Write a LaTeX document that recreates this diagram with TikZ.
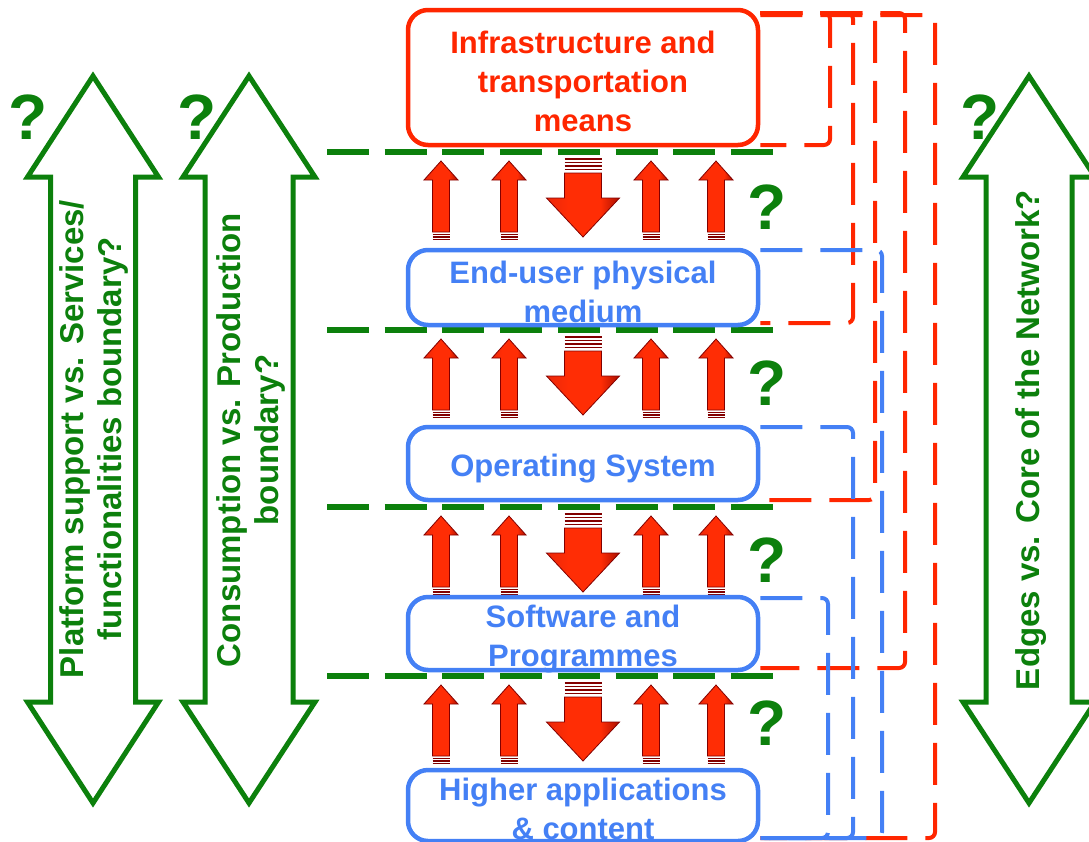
\documentclass[tikz,border=0pt]{standalone}
\usepackage{fontspec}
\setmainfont{Liberation Sans}
\definecolor{gr}{RGB}{12,128,12}
\definecolor{rd}{RGB}{255,38,0}
\definecolor{bl}{RGB}{68,128,245}
\definecolor{arrL}{RGB}{235,40,10}
\definecolor{arrM}{RGB}{255,45,5}
\definecolor{arrR}{RGB}{170,15,0}
\definecolor{arrD}{RGB}{130,0,0}
\pgfdeclarehorizontalshading{redarr}{100bp}{color(0bp)=(arrL); color(25bp)=(arrL); color(40bp)=(arrM); color(62bp)=(arrM); color(75bp)=(arrR); color(100bp)=(arrR)}
\tikzset{
  garrow/.style={draw=gr, line width=5, line join=miter, fill=white},
  gtext/.style={text=gr, font=\fontsize{33}{38}\selectfont\bfseries, align=center, inner sep=0},
  qmark/.style={text=gr, font=\fontsize{64}{64}\selectfont\bfseries, inner sep=0},
  gdash/.style={draw=gr, line width=5.5, dash pattern=on 42 off 15.7},
  boxstyle/.style={rounded corners=20, line width=4.5, minimum width=350, inner sep=0},
  redbox/.style={boxstyle, draw=rd},
  bluebox/.style={boxstyle, draw=bl},
  boxtext/.style={inner sep=0, align=center, font=\fontsize{31}{39}\selectfont\bfseries},
  rbr/.style={draw=rd, line width=4, dash pattern=on 42 off 18, rounded corners=6},
  bbr/.style={draw=bl, line width=4, dash pattern=on 42 off 18, rounded corners=6},
  uparr/.style={draw=arrD, line width=0.8, shading=redarr},
  stripe/.style={draw=arrD, line width=1.1},
}
\begin{document}
\begin{tikzpicture}[x=1pt, y=-1pt]
\useasboundingbox (0,0) rectangle (1089,841);

% big green double arrows
\draw[garrow] (93,76) -- (158.5,177) -- (135.5,177) -- (135.5,702) -- (158.5,702) -- (93,803) -- (27.5,702) -- (50.5,702) -- (50.5,177) -- (27.5,177) -- cycle;
\draw[garrow] (249,76) -- (315,177) -- (293,177) -- (293,702) -- (315,702) -- (249,803) -- (183,702) -- (205,702) -- (205,177) -- (183,177) -- cycle;
\draw[garrow] (1029,76) -- (1095,177) -- (1072,177) -- (1072,702) -- (1095,702) -- (1029,803) -- (963,702) -- (986,702) -- (986,177) -- (963,177) -- cycle;

\node[gtext, rotate=90] (pt) at (94,439) {Platform support vs. Services/\\functionalities boundary?};
\node[gtext, rotate=90] (cp) at (251,440) {Consumption vs. Production\\boundary?};
\node[gtext, rotate=90] (ec) at (1031,440) {Edges vs. Core of the Network?};

\node[qmark] (q1) at (28,117) {?};
\node[qmark] (q2) at (197,117) {?};
\node[qmark] (q3) at (980,117) {?};

% green dashed separators
\foreach \b in {152,330,507,676}{
  \draw[gdash] (327,\b) -- (773,\b);
}

% red layer arrows
\foreach \b in {152,330,507,676}{
  \foreach \c in {441,509,651,716}{
    \draw[uparr] (\c,\b+9) -- (\c+17,\b+28) -- (\c+8.5,\b+28) -- (\c+8.5,\b+80) -- (\c-8.5,\b+80) -- (\c-8.5,\b+28) -- (\c-17,\b+28) -- cycle;
    \foreach \s in {82.5,85,87.5} \draw[stripe] (\c-8.5,\b+\s) -- (\c+8.5,\b+\s);
  }
  \draw[uparr] (564.5,\b+21) -- (601.5,\b+21) -- (601.5,\b+46) -- (619.5,\b+46) -- (583,\b+85) -- (546.5,\b+46) -- (564.5,\b+46) -- cycle;
  \foreach \s in {7,10.5,14,17.5} \draw[stripe] (564.5,\b+\s) -- (601.5,\b+\s);
}

% boxes
\node[redbox, minimum height=135] (infra) at (583,77.5) {};
\node[bluebox, minimum height=75] (enduser) at (583,287.5) {};
\node[bluebox, minimum height=73] (os) at (583,463.5) {};
\node[bluebox, minimum height=73] (soft) at (583,633.5) {};
\node[bluebox, minimum height=71] (higher) at (583,805.5) {};

\node[boxtext, text=rd] (infraT) at ([yshift=-4pt]infra.center) {Infrastructure and\\transportation\\means};
\node[boxtext, text=bl] (enduserT) at ([yshift=-4pt]enduser.center) {End-user physical\\medium};
\node[boxtext, text=bl] (osT) at ([yshift=-5pt]os.center) {Operating System};
\node[boxtext, text=bl] (softT) at ([yshift=-6pt]soft.center) {Software and\\Programmes};
\node[boxtext, text=bl] (higherT) at ([yshift=-3pt]higher.center) {Higher applications\\\& content};

% question marks between layers
\node[qmark] (qa) at (767,207) {?};
\node[qmark] (qb) at (767,383) {?};
\node[qmark] (qc) at (767,560) {?};
\node[qmark] (qd) at (767,723) {?};

% red dashed brackets
\draw[rbr] (infra.east |- 0,13) -- (830,13) -- (830,145) -- (infra.east |- 0,145);
\draw[rbr] (infra.east |- 0,13) -- (853,13) -- (853,323) -- (enduser.east |- 0,323);
\draw[rbr] (infra.east |- 0,13) -- (875,13) -- (875,500) -- (os.east |- 0,500);
\draw[rbr] (infra.east |- 0,13) -- (905,13) -- (905,668) -- (soft.east |- 0,668);
\draw[rbr] (infra.east |- 0,15) -- (935,15) -- (935,838) -- (higher.east |- 0,838);

% blue dashed brackets
\draw[bbr] (enduser.east |- 0,250) -- (882,250) -- (882,838) -- (higher.east |- 0,838);
\draw[bbr] (os.east |- 0,427) -- (853,427) -- (853,838) -- (higher.east |- 0,838);
\draw[bbr] (soft.east |- 0,598) -- (828,598) -- (828,838) -- (higher.east |- 0,838);
\end{tikzpicture}
\end{document}
